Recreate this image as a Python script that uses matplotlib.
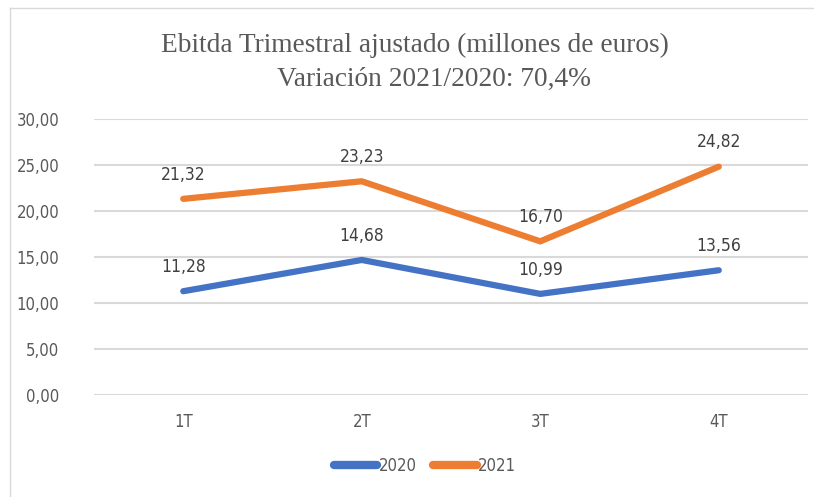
import matplotlib
matplotlib.use("Agg")
import matplotlib.pyplot as plt
from matplotlib import font_manager

# data
quarters = ["1T", "2T", "3T", "4T"]
ebitda_2020 = [11.28, 14.68, 10.99, 13.56]
ebitda_2021 = [21.32, 23.23, 16.70, 24.82]
yticks = [0, 5, 10, 15, 20, 25, 30]

names = {f.name for f in font_manager.fontManager.ttflist}
narrow = "Liberation Sans Narrow" if "Liberation Sans Narrow" in names else "DejaVu Sans"
plt.rcParams['font.family'] = [narrow, 'DejaVu Sans']
plt.rcParams['font.stretch'] = 'condensed'

fig = plt.figure(figsize=(8.14, 4.97), dpi=100)
# plot area in pixels: x 94..808, y 119..395 (image height 497)
ax = fig.add_axes([94/814, 1 - 395/497, (808-94)/814, (395-119)/497])

x = list(range(len(quarters)))
ax.plot(x, ebitda_2020, color="#4472C4", lw=4.5, solid_capstyle="round", solid_joinstyle="round", label="2020")
ax.plot(x, ebitda_2021, color="#ED7D31", lw=4.5, solid_capstyle="round", solid_joinstyle="round", label="2021")

for xs, ys in [(x, ebitda_2020), (x, ebitda_2021)]:
    for xi, yi in zip(xs, ys):
        ax.annotate(f"{yi:.2f}".replace(".", ","), (xi, yi), xytext=(0, 11),
                    textcoords="offset points", ha="center", va="bottom",
                    fontsize=12.5, color="#404040")

ax.set_xlim(-0.5, 3.5)
ax.set_ylim(0, 30)
ax.set_yticks(yticks)
ax.set_yticklabels([f"{v:.2f}".replace(".", ",") for v in yticks])
ax.set_xticks(x)
ax.set_xticklabels(quarters)
ax.tick_params(length=0, labelsize=12, colors="#595959")
ax.tick_params(axis="x", pad=13)
ax.tick_params(axis="y", pad=25)
ax.grid(axis="y", color="#D9D9D9", lw=1.5)
ax.set_axisbelow(True)
for s in ax.spines.values():
    s.set_visible(False)

fig.text(415/814, 1 - 45/497, "Ebitda Trimestral ajustado (millones de euros)",
         ha="center", va="center", family="Liberation Serif", fontsize=19.7, color="#595959")
fig.text(434/814, 1 - 79/497, "Variación 2021/2020: 70,4%",
         ha="center", va="center", family="Liberation Serif", fontsize=19.7, color="#595959")

leg = fig.legend(loc="center", bbox_to_anchor=(425/814, 1 - 466/497), ncol=2, frameon=False,
                 fontsize=12, handlelength=2.6, handletextpad=0.1, columnspacing=1.0)
for t in leg.get_texts():
    t.set_color("#595959")
for h in leg.get_lines():
    h.set_linewidth(6)

# light outer border like the chart frame
fig.add_artist(plt.Line2D([10/814, 10/814], [0, 1 - 8/497], color="#D9D9D9", lw=1, transform=fig.transFigure))
fig.add_artist(plt.Line2D([10/814, 1], [1 - 8/497, 1 - 8/497], color="#D9D9D9", lw=1, transform=fig.transFigure))

fig.savefig("out.png", dpi=100)
